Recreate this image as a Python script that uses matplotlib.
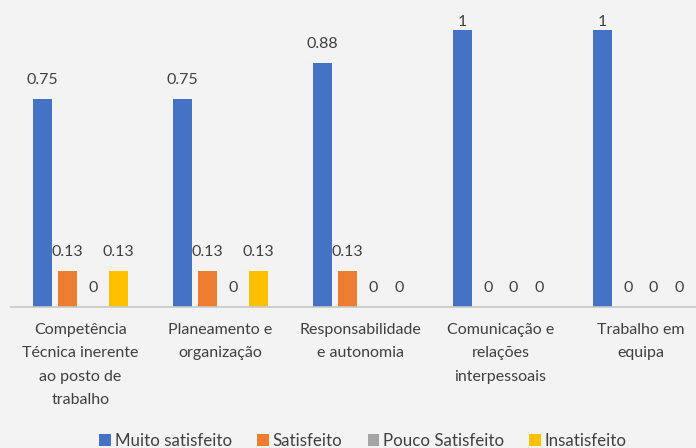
"""Satisfaction levels per competence - grouped bar chart"""

import matplotlib.pyplot as plt
import numpy as np

categories = [
    'Competência\nTécnica inerente\nao posto de\ntrabalho',
    'Planeamento e\norganização',
    'Responsabilidade\ne autonomia',
    'Comunicação e\nrelações\ninterpessoais',
    'Trabalho em\nequipa',
]
series_names = ['Muito satisfeito', 'Satisfeito', 'Pouco Satisfeito', 'Insatisfeito']
muito_satisfeito = [0.75, 0.75, 0.88, 1, 1]
satisfeito = [0.13, 0.13, 0.13, 0, 0]
pouco_satisfeito = [0, 0, 0, 0, 0]
insatisfeito = [0.13, 0.13, 0, 0, 0]
colors = ['#4472C4', '#ED7D31', '#A5A5A5', '#FFC000']

plt.rcParams['font.family'] = ['Lato', 'DejaVu Sans']
text_color = '#404040'

fig = plt.figure(figsize=(6.96, 4.48), dpi=100)
fig.patch.set_facecolor('#f3f3f3')
# axes spans a bit past the right edge, like the cropped original
ax = fig.add_axes([10.5 / 696, 141 / 448, 700 / 696, 277 / 448])
ax.set_facecolor('none')

x = np.arange(len(categories))
step = 0.182
width = 0.136
all_series = [muito_satisfeito, satisfeito, pouco_satisfeito, insatisfeito]
ymax = 1

handles = []
for i, (vals, name, c) in enumerate(zip(all_series, series_names, colors)):
    pos = x + (i - 1.5) * step
    bars = ax.bar(pos, vals, width, color=c, label=name)
    handles.append(bars)
    for b, v in zip(bars, vals):
        # labels at the top of the plot area get pushed down (like Excel does)
        off = 1 if v >= ymax * 0.97 else 8.5
        ax.annotate(f'{v:g}', (b.get_x() + b.get_width() / 2, v), xytext=(0, off),
                    textcoords='offset points', ha='center', va='bottom',
                    fontsize=11.5, color=text_color, annotation_clip=False)

ax.set_xlim(-0.5, len(categories) - 0.5)
ax.set_ylim(0, ymax)
ax.set_yticks([])
ax.set_xticks(x)
ax.set_xticklabels(categories, fontsize=11.5, color=text_color, linespacing=1.85)
ax.tick_params(axis='x', length=0, pad=11.5)
for s in ['top', 'right', 'left']:
    ax.spines[s].set_visible(False)
ax.spines['bottom'].set_color('#c8c8c8')
ax.spines['bottom'].set_linewidth(1.2)

fig.legend(handles=handles, labels=series_names, loc='center', bbox_to_anchor=(363 / 696, 7 / 448),
           ncol=4, frameon=False, fontsize=12.2, handlelength=0.7, handleheight=0.7,
           handletextpad=0.2, columnspacing=1.5, labelcolor=text_color)

plt.savefig('out.png', dpi=100, facecolor=fig.get_facecolor())
